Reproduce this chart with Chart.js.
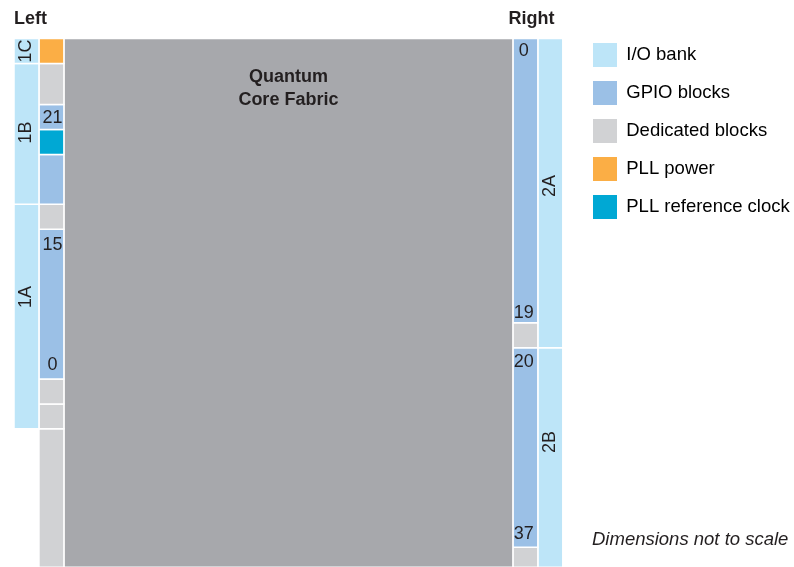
<!DOCTYPE html>
<html>
<head>
<meta charset="utf-8">
<script src="https://cdn.jsdelivr.net/npm/chart.js@4.4.1/dist/chart.umd.min.js"></script>
<style>
  html, body { margin: 0; padding: 0; background: #fff; }
  #wrap { width: 794px; height: 567px; position: relative; }
</style>
</head>
<body>
<div id="wrap"><canvas id="chart"></canvas></div>
<script>
// Lanes across the diagram (x units, one lane = one block width)
const laneNames = ['Left I/O', 'Left blocks', 'Core', 'Right blocks', 'Right I/O'];
const laneStart = [0, 1, 2, 20, 21];
const laneEnd = [1, 2, 20, 21, 22];

// Blocks: type, lane and vertical extent (y units from the top edge)
const blockType = [
  'io', 'io', 'io',
  'pll', 'ded', 'gpio', 'ref', 'gpio', 'ded', 'gpio', 'ded', 'ded', 'ded',
  'core',
  'gpio', 'ded', 'gpio', 'ded',
  'io', 'io'
];
const blockLane = [0, 0, 0, 1, 1, 1, 1, 1, 1, 1, 1, 1, 1, 2, 3, 3, 3, 3, 4, 4];
const blockTop = [0, 1, 6.65, 0, 1, 2.65, 3.65, 4.65, 6.65, 7.65, 13.65, 14.65, 15.65, 0, 0, 11.4, 12.4, 20.4, 0, 12.4];
const blockBottom = [1, 6.65, 15.65, 1, 2.65, 3.65, 4.65, 6.65, 7.65, 13.65, 14.65, 15.65, 21.2, 21.2, 11.4, 12.4, 20.4, 21.2, 12.4, 21.2];

// Legend entries
const legendTypes = ['io', 'gpio', 'ded', 'pll', 'ref'];
const legendNames = ['I/O bank', 'GPIO blocks', 'Dedicated blocks', 'PLL power', 'PLL reference clock'];

// I/O bank names (rotated) and where they sit
const bankNames = ['1C', '1B', '1A', '2A', '2B'];
const bankLane = [0, 0, 0, 4, 4];
const bankY = [0.5, 3.77, 10.36, 5.91, 16.18];

// GPIO index labels
const pinNames = ['21', '15', '0', '0', '19', '20', '37'];
const pinX = [1.54, 1.54, 1.54, 20.44, 20.44, 20.44, 20.44];
const pinY = [3.19, 8.29, 13.11, 0.51, 11.02, 12.96, 19.85];

// Colours
const typeColor = {
  io: '#bde5f8',
  gpio: '#9bc0e6',
  ded: '#d1d2d4',
  pll: '#fbae45',
  ref: '#00a8d4',
  core: '#a7a8ac'
};
const textColor = '#231f20';
const fontFamily = "'Liberation Sans', Arial, sans-serif";

Chart.defaults.font.family = fontFamily;

const datasets = blockType.map((t, i) => {
  const x0 = laneStart[blockLane[i]], x1 = laneEnd[blockLane[i]];
  const y0 = blockTop[i], y1 = blockBottom[i];
  return {
    label: t,
    data: [{x: x0, y: y0}, {x: x1, y: y0}, {x: x1, y: y1}, {x: x0, y: y1}, {x: x0, y: y0}],
    showLine: true,
    fill: 'shape',
    backgroundColor: typeColor[t],
    borderColor: '#ffffff',
    borderWidth: 1.5,
    pointRadius: 0,
    tension: 0
  };
});

const textPlugin = {
  id: 'diagramText',
  afterDraw(chart) {
    const {ctx, scales: {x, y}} = chart;
    ctx.save();
    ctx.fillStyle = textColor;

    // headers
    ctx.font = 'bold 18px ' + fontFamily;
    ctx.textBaseline = 'middle';
    ctx.textAlign = 'left';
    ctx.fillText('Left', x.getPixelForValue(laneStart[0]), y.getPixelForValue(-0.8));
    ctx.textAlign = 'center';
    ctx.fillText('Right', x.getPixelForValue(20.75), y.getPixelForValue(-0.8));

    // core title
    const coreX = x.getPixelForValue((laneStart[2] + laneEnd[2]) / 2);
    ctx.fillText('Quantum', coreX, y.getPixelForValue(1.53));
    ctx.fillText('Core Fabric', coreX, y.getPixelForValue(2.47));

    // bank names, rotated
    ctx.font = '18px ' + fontFamily;
    bankNames.forEach((name, i) => {
      const cx = x.getPixelForValue((laneStart[bankLane[i]] + laneEnd[bankLane[i]]) / 2);
      const cy = y.getPixelForValue(bankY[i]);
      ctx.save();
      ctx.translate(cx, cy);
      ctx.rotate(-Math.PI / 2);
      ctx.fillText(name, 0, 0);
      ctx.restore();
    });

    // pin numbers
    pinNames.forEach((name, i) => {
      ctx.fillText(name, x.getPixelForValue(pinX[i]), y.getPixelForValue(pinY[i]));
    });

    // note
    ctx.font = 'italic 18.5px ' + fontFamily;
    ctx.textAlign = 'left';
    ctx.fillText('Dimensions not to scale', chart.legend.left + 13, y.getPixelForValue(20.1));
    ctx.restore();
  }
};

new Chart(document.getElementById('chart'), {
  type: 'scatter',
  data: { datasets },
  options: {
    responsive: true,
    maintainAspectRatio: false,
    animation: false,
    layout: { padding: { top: 29, left: 14, right: 0, bottom: 0 } },
    scales: {
      x: { type: 'linear', min: 0, max: 22.65, display: false },
      y: { type: 'linear', min: -0.381, max: 21.19, reverse: true, display: false }
    },
    plugins: {
      tooltip: { enabled: false },
      legend: {
        position: 'right',
        align: 'start',
        maxWidth: 215,
        labels: {
          boxWidth: 24,
          boxHeight: 24,
          padding: 14,
          color: '#000',
          font: { size: 18.5 },
          generateLabels: () => legendTypes.map((t, i) => ({
            text: legendNames[i],
            fillStyle: typeColor[t],
            strokeStyle: typeColor[t],
            lineWidth: 0,
            hidden: false
          }))
        }
      }
    }
  },
  plugins: [textPlugin]
});
</script>
</body>
</html>
